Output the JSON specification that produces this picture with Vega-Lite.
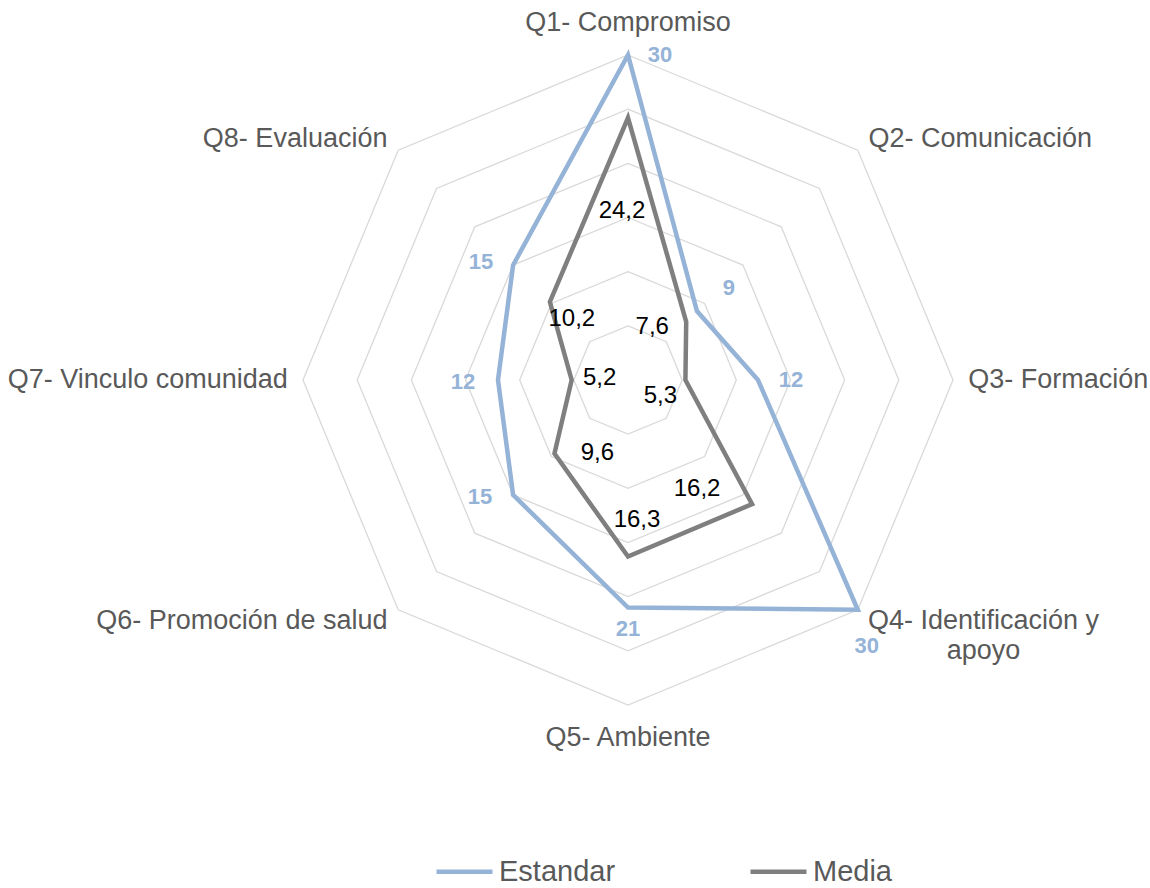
{
  "$schema": "https://vega.github.io/schema/vega-lite/v6.json",
  "width": 650,
  "height": 650,
  "autosize": {"type": "none"},
  "padding": {"left": 303, "top": 55, "right": 197, "bottom": 183},
  "background": "white",
  "config": {"view": {"stroke": null}, "font": "Liberation Sans"},
  "datasets": {
    "main": [
      {"cat": "Q1- Compromiso", "k": 0, "serie": "Estandar", "value": 30},
      {"cat": "Q2- Comunicación", "k": 1, "serie": "Estandar", "value": 9},
      {"cat": "Q3- Formación", "k": 2, "serie": "Estandar", "value": 12},
      {"cat": "Q4- Identificación y\napoyo", "k": 3, "serie": "Estandar", "value": 30},
      {"cat": "Q5- Ambiente", "k": 4, "serie": "Estandar", "value": 21},
      {"cat": "Q6- Promoción de salud", "k": 5, "serie": "Estandar", "value": 15},
      {"cat": "Q7- Vinculo comunidad", "k": 6, "serie": "Estandar", "value": 12},
      {"cat": "Q8- Evaluación", "k": 7, "serie": "Estandar", "value": 15},
      {"cat": "Q1- Compromiso", "k": 0, "serie": "Media", "value": 24.2},
      {"cat": "Q2- Comunicación", "k": 1, "serie": "Media", "value": 7.6},
      {"cat": "Q3- Formación", "k": 2, "serie": "Media", "value": 5.3},
      {"cat": "Q4- Identificación y\napoyo", "k": 3, "serie": "Media", "value": 16.2},
      {"cat": "Q5- Ambiente", "k": 4, "serie": "Media", "value": 16.3},
      {"cat": "Q6- Promoción de salud", "k": 5, "serie": "Media", "value": 9.6},
      {"cat": "Q7- Vinculo comunidad", "k": 6, "serie": "Media", "value": 5.2},
      {"cat": "Q8- Evaluación", "k": 7, "serie": "Media", "value": 10.2}
    ],
    "rings": [
      {"ring": 5, "k": [0, 1, 2, 3, 4, 5, 6, 7]},
      {"ring": 10, "k": [0, 1, 2, 3, 4, 5, 6, 7]},
      {"ring": 15, "k": [0, 1, 2, 3, 4, 5, 6, 7]},
      {"ring": 20, "k": [0, 1, 2, 3, 4, 5, 6, 7]},
      {"ring": 25, "k": [0, 1, 2, 3, 4, 5, 6, 7]},
      {"ring": 30, "k": [0, 1, 2, 3, 4, 5, 6, 7]}
    ]
  },
  "layer": [
    {
      "data": {"name": "rings"},
      "transform": [
        {"flatten": ["k"]},
        {"calculate": "datum.ring * sin(datum.k * PI / 4)", "as": "gx"},
        {"calculate": "datum.ring * cos(datum.k * PI / 4)", "as": "gy"}
      ],
      "mark": {"type": "line", "color": "#D9D9D9", "strokeWidth": 1.3, "interpolate": "linear-closed"},
      "encoding": {
        "x": {"field": "gx", "type": "quantitative", "scale": {"domain": [-30, 30], "nice": false, "zero": false}, "axis": null},
        "y": {"field": "gy", "type": "quantitative", "scale": {"domain": [-30, 30], "nice": false, "zero": false}, "axis": null},
        "detail": {"field": "ring", "type": "nominal"},
        "order": {"field": "k", "type": "quantitative"}
      }
    },
    {
      "data": {"name": "main"},
      "transform": [
        {"calculate": "datum.value * sin(datum.k * PI / 4)", "as": "gx"},
        {"calculate": "datum.value * cos(datum.k * PI / 4)", "as": "gy"}
      ],
      "mark": {"type": "line", "strokeWidth": 4.5, "interpolate": "linear-closed", "strokeJoin": "miter"},
      "encoding": {
        "x": {"field": "gx", "type": "quantitative", "axis": null},
        "y": {"field": "gy", "type": "quantitative", "axis": null},
        "color": {
          "field": "serie", "type": "nominal",
          "scale": {"domain": ["Estandar", "Media"], "range": ["#95B3D7", "#7F7F7F"]},
          "legend": {
            "orient": "none", "legendX": 131, "legendY": 786, "direction": "horizontal",
            "title": null, "symbolType": "stroke", "symbolSize": 3136, "symbolStrokeWidth": 4.5,
            "labelFontSize": 29, "labelColor": "#595959", "labelFont": "Liberation Sans",
            "columnPadding": 125, "labelOffset": 4, "padding": 0, "symbolOpacity": 1
          }
        },
        "order": {"field": "k", "type": "quantitative"}
      }
    },
    {
      "data": {"name": "main"},
      "transform": [
        {"filter": "datum.serie == 'Estandar' && (datum.k == 0 || datum.k == 4)"},
        {"calculate": "33 * sin(datum.k * PI / 4)", "as": "gx"},
        {"calculate": "33 * cos(datum.k * PI / 4)", "as": "gy"}
      ],
      "mark": {"type": "text", "align": "center", "baseline": "middle", "fontSize": 27, "color": "#595959"},
      "encoding": {
        "x": {"field": "gx", "type": "quantitative"},
        "y": {"field": "gy", "type": "quantitative"},
        "text": {"field": "cat"}
      }
    },
    {
      "data": {"name": "main"},
      "transform": [
        {"filter": "datum.serie == 'Estandar' && (datum.k == 1 || datum.k == 2)"},
        {"calculate": "31.4 * sin(datum.k * PI / 4)", "as": "gx"},
        {"calculate": "31.4 * cos(datum.k * PI / 4)", "as": "gy"}
      ],
      "mark": {"type": "text", "align": "left", "baseline": "middle", "fontSize": 27, "color": "#595959"},
      "encoding": {
        "x": {"field": "gx", "type": "quantitative"},
        "y": {"field": "gy", "type": "quantitative"},
        "text": {"field": "cat"}
      }
    },
    {
      "data": {"name": "main"},
      "transform": [
        {"filter": "datum.serie == 'Estandar' && datum.k == 3"},
        {"calculate": "31.4 * sin(datum.k * PI / 4)", "as": "gx"},
        {"calculate": "31.4 * cos(datum.k * PI / 4)", "as": "gy"}
      ],
      "mark": {"type": "text", "align": "center", "baseline": "middle", "fontSize": 27, "color": "#595959", "lineBreak": "\n", "lineHeight": 30, "dx": 115},
      "encoding": {
        "x": {"field": "gx", "type": "quantitative"},
        "y": {"field": "gy", "type": "quantitative"},
        "text": {"field": "cat"}
      }
    },
    {
      "data": {"name": "main"},
      "transform": [
        {"filter": "datum.serie == 'Estandar' && datum.k >= 5"},
        {"calculate": "31.4 * sin(datum.k * PI / 4)", "as": "gx"},
        {"calculate": "31.4 * cos(datum.k * PI / 4)", "as": "gy"}
      ],
      "mark": {"type": "text", "align": "right", "baseline": "middle", "fontSize": 27, "color": "#595959"},
      "encoding": {
        "x": {"field": "gx", "type": "quantitative"},
        "y": {"field": "gy", "type": "quantitative"},
        "text": {"field": "cat"}
      }
    },
    {
      "data": {"name": "main"},
      "transform": [
        {"filter": "datum.serie == 'Estandar'"},
        {"calculate": "datum.value * sin(datum.k * PI / 4)", "as": "gx"},
        {"calculate": "datum.value * cos(datum.k * PI / 4)", "as": "gy"}
      ],
      "mark": {
        "type": "text", "align": "center", "baseline": "middle", "fontSize": 22, "fontWeight": "bold", "color": "#95B3D7",
        "dx": {"expr": "[32, 32, 33, 9, 0, -33, -35, -32][datum.k]"},
        "dy": {"expr": "[0, -23, 0, 36, 21, 2, 2, -3][datum.k]"}
      },
      "encoding": {
        "x": {"field": "gx", "type": "quantitative"},
        "y": {"field": "gy", "type": "quantitative"},
        "text": {"field": "value", "type": "quantitative"}
      }
    },
    {
      "data": {"name": "main"},
      "transform": [
        {"filter": "datum.serie == 'Media'"},
        {"calculate": "datum.value * sin(datum.k * PI / 4)", "as": "gx"},
        {"calculate": "datum.value * cos(datum.k * PI / 4)", "as": "gy"},
        {"calculate": "replace(format(datum.value, '.1f'), '.', ',')", "as": "lbl"}
      ],
      "mark": {
        "type": "text", "align": "center", "baseline": "middle", "fontSize": 24, "color": "#000000",
        "dx": {"expr": "[-6, -34, -25, -55, 9, 43, 28, 22][datum.k]"},
        "dy": {"expr": "[93, 5, 16, -15, -37, -1, -2, 17][datum.k]"}
      },
      "encoding": {
        "x": {"field": "gx", "type": "quantitative"},
        "y": {"field": "gy", "type": "quantitative"},
        "text": {"field": "lbl"}
      }
    }
  ]
}
